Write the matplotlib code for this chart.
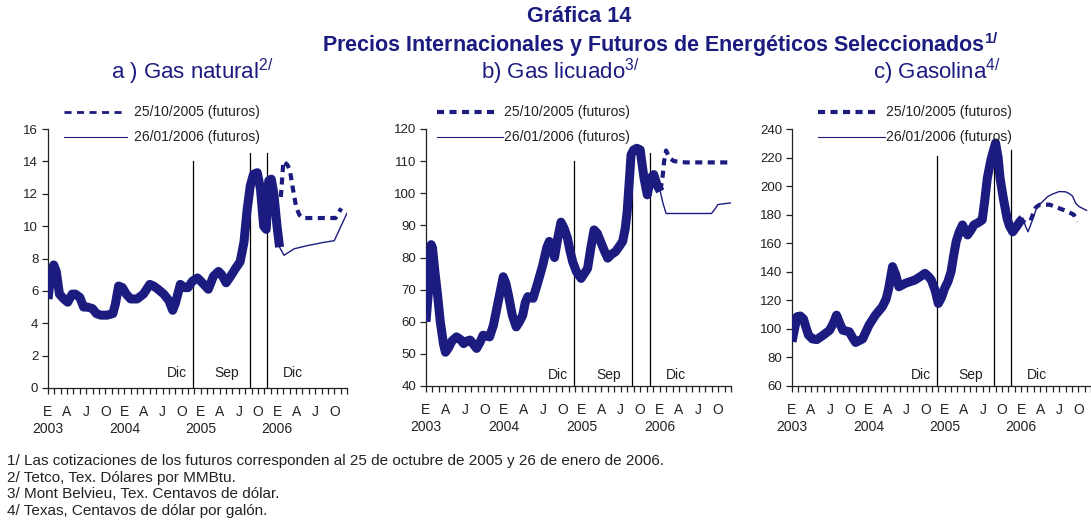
import matplotlib
matplotlib.use("Agg")
import matplotlib.pyplot as plt
from matplotlib.lines import Line2D

plt.rcParams['font.family'] = ['Liberation Sans', 'DejaVu Sans']

# ---------------- data (months since Jan 2003) ----------------
gn_m = [0, 0.4, 0.9, 1.3, 1.8, 2.5, 3.1, 3.8, 4.3, 5.0, 5.6, 6.2, 7.0, 7.6, 8.3, 9.3, 10.2, 10.6, 11.1, 11.7,
        12.3, 13.0, 14.0, 15.0, 16.0, 16.6, 17.3, 18.2, 19.0, 19.6, 20.0, 20.8, 21.5, 22.0, 22.7, 23.5, 24.5,
        25.2, 26.0, 26.8, 27.3, 28.0, 28.7, 29.5, 30.2, 30.8, 31.3, 31.8, 32.3, 32.9, 33.4, 33.9, 34.3, 34.7,
        35.1, 35.5, 36.0, 36.4]
gn_v = [5.5, 6.8, 7.6, 7.2, 5.8, 5.5, 5.3, 5.8, 5.8, 5.6, 5.0, 5.0, 4.9, 4.6, 4.5, 4.5, 4.6, 5.2, 6.3, 6.2,
        5.8, 5.5, 5.5, 5.8, 6.4, 6.3, 6.1, 5.8, 5.4, 4.8, 5.2, 6.4, 6.2, 6.2, 6.6, 6.8, 6.4,
        6.1, 6.9, 7.2, 7.0, 6.5, 6.9, 7.4, 7.8, 9.0, 11.0, 12.5, 13.2, 13.3, 12.3, 10.0, 9.8, 12.8,
        12.9, 12.0, 10.0, 8.7]
gn_f1_m = [36.6, 37.0, 37.6, 38.0, 38.5, 39.0, 39.5, 40.0, 42.0, 44.0, 45.2, 45.8, 46.1]
gn_f1_v = [11.8, 14.0, 13.8, 13.5, 12.3, 11.2, 10.7, 10.5, 10.5, 10.5, 10.5, 10.9, 11.1]
gn_f2_m = [36.4, 37.1, 38.7, 40.8, 43.4, 45.0, 47.0]
gn_f2_v = [8.7, 8.2, 8.6, 8.8, 9.0, 9.1, 10.8]

gl_m = [0, 0.4, 0.8, 1.0, 1.4, 1.8, 2.2, 2.7, 3.0, 3.5, 4.0, 4.7, 5.3, 5.8, 6.3, 6.8, 7.3, 7.8, 8.3, 8.8,
        9.8, 10.4, 10.9, 11.5, 11.9, 12.3, 12.7, 13.3, 13.9, 14.4, 14.9, 15.3, 15.7, 16.5, 17.2, 18.0, 18.6,
        19.0, 19.4, 19.8, 20.3, 20.8, 21.3, 21.8, 22.2, 22.6, 23.2, 23.9, 24.4, 24.9, 25.4, 25.9, 26.4, 26.9,
        27.5, 28.0, 28.6, 29.2, 29.8, 30.3, 30.7, 31.0, 31.3, 31.6, 32.0, 32.5, 33.0, 33.3, 33.6, 34.1, 34.6,
        35.1, 35.6, 36.1]
gl_v = [60, 70, 84, 83, 75, 68, 60, 53, 50.5, 52, 54, 55.3, 54.5, 53.2, 54, 54.3, 53, 51.7, 53.5, 55.8,
        55.3, 59, 64, 70, 74, 72, 68.3, 62, 58.4, 60, 62, 66, 67.8, 67.3, 72, 77.7, 83,
        85, 83, 80, 86, 91, 89, 86, 82, 78.7, 75.5, 73.5, 75, 76.6, 83, 88.6, 87.5, 85,
        82, 79.8, 81, 81.8, 83.5, 85, 89, 94.3, 103, 112, 113.5, 114, 113.5, 109, 104.7, 99.5, 104.7,
        105.8, 102.6, 100.6]
gl_f1_m = [36.1, 36.4, 36.7, 37.0, 37.5, 38.2, 40.0, 43.0, 47.0]
gl_f1_v = [101, 104, 110, 113.3, 111, 110, 109.6, 109.6, 109.6]
gl_f2_m = [36.1, 36.5, 37.0, 40.0, 44.0, 44.5, 45.0, 47.0]
gl_f2_v = [100.6, 97, 93.7, 93.7, 93.7, 95, 96.5, 97]

gs_m = [0, 0.4, 0.8, 1.3, 1.8, 2.2, 2.6, 3.2, 3.9, 4.9, 5.9, 6.5, 7.0, 7.5, 8.0, 9.0, 9.5, 10.0, 11.1, 12.1,
        13.1, 14.2, 14.8, 15.2, 15.8, 16.3, 16.8, 17.8, 19.3, 20.3, 20.9, 21.5, 21.9, 22.5, 23.0, 23.5, 24.0,
        24.5, 25.0, 25.4, 25.8, 26.3, 26.8, 27.2, 27.6, 28.1, 28.6, 29.3, 29.9, 30.3, 30.7, 31.3, 32.0, 32.4,
        32.7, 33.2, 33.8, 34.2, 34.7, 35.3, 35.8, 36.3]
gs_v = [91, 100, 108.5, 109, 107, 101, 95.6, 93, 92.5, 95.6, 99, 104, 109.6, 104, 99, 98, 94, 90.5, 93, 102.6,
        109.6, 115.5, 121, 128.3, 143.6, 138, 129.5, 131.9, 134.2, 137, 138.9, 136.5, 134.2, 127, 117.8, 122, 128.4,
        133, 140, 151, 161.1, 168, 172.8, 169, 165.8, 169, 172.8, 174.5, 176.3, 190, 205.6, 219, 230.2, 220,
        205.6, 192, 177.5, 172, 168, 171.7, 175, 177.5]
gs_f1_m = [37.5, 38.3, 38.9, 40.5, 42.0, 43.3, 44.3, 44.8]
gs_f1_v = [176, 185, 186.9, 187, 184.5, 182.2, 180, 175]
gs_f2_m = [36.3, 36.7, 37.1, 37.7, 38.4, 38.9, 40.2, 41.0, 42.0, 43.0, 43.5, 44.1, 44.6, 45.1, 46.3]
gs_f2_v = [177.5, 172, 168, 175, 184, 187, 192.7, 194.5, 196.2, 196, 195, 193, 188, 185.7, 183]

month_letters = ['E', 'A', 'J', 'O']
years = ['2003', '2004', '2005', '2006']
vline_m = [22.8, 31.7, 34.5]
vline_labels = ['Dic', 'Sep', 'Dic']
vline_label_m = [20.3, 28.1, 38.5]

panels = [
    dict(title='a ) Gas natural', sup='2/', m=gn_m, v=gn_v, f1m=gn_f1_m, f1v=gn_f1_v, f2m=gn_f2_m, f2v=gn_f2_v,
         ylim=(0, 16), yticks=list(range(0, 17, 2)), vtops=[14, 14.5, 14.5], lblv=0.9),
    dict(title='b) Gas licuado', sup='3/', m=gl_m, v=gl_v, f1m=gl_f1_m, f1v=gl_f1_v, f2m=gl_f2_m, f2v=gl_f2_v,
         ylim=(40, 120), yticks=list(range(40, 121, 10)), vtops=[110, 114, 112.5], lblv=43.3),
    dict(title='c) Gasolina', sup='4/', m=gs_m, v=gs_v, f1m=gs_f1_m, f1v=gs_f1_v, f2m=gs_f2_m, f2v=gs_f2_v,
         ylim=(60, 240), yticks=list(range(60, 241, 20)), vtops=[221, 233, 225], lblv=67.5),
]

# ---------------- layout (pixels) ----------------
W, H = 1091, 527
NAVY = '#1c1c80'
TXT = '#222222'
fig = plt.figure(figsize=(W / 100, H / 100), dpi=100)

boxes = [(48, 129, 347, 388, 47.0), (426, 129, 731, 386, 47.0), (792, 129, 1091, 386, 46.2)]
leg = [(64, 127, 134), (437, 503, 504), (818, 885, 886)]
leg_lw = [2.0, 3.0, 3.0]
title_x = [192, 560, 937]

def fx(x):
    return x / W

def fy(y):
    return 1 - y / H

for p, (l, t, r, b, xmax), (lx0, lx1, tx), llw, ttx in zip(panels, boxes, leg, leg_lw, title_x):
    ax = fig.add_axes([fx(l), fy(b), (r - l) / W, (b - t) / H])
    ax.plot(p['m'], p['v'], color=NAVY, lw=6.5, solid_capstyle='butt', solid_joinstyle='round', zorder=3)
    ax.plot(p['f1m'], p['f1v'], color=NAVY, lw=3.0, dashes=(1.7, 1.3), zorder=3)
    ax.plot(p['f2m'], p['f2v'], color=NAVY, lw=1.0, zorder=3)
    for vm, vt in zip(vline_m, p['vtops']):
        ax.plot([vm, vm], [p['ylim'][0], vt], color='black', lw=0.9, zorder=2)
    for lm, lt in zip(vline_label_m, vline_labels):
        ax.text(lm, p['lblv'], lt, ha='center', va='center', fontsize=10, color=TXT)
    ax.set_xlim(0, xmax)
    ax.set_ylim(*p['ylim'])
    ax.set_yticks(p['yticks'])
    ticks = list(range(0, 48))
    labels = []
    for k in ticks:
        if k % 3 == 0:
            s = month_letters[(k // 3) % 4]
            if k % 12 == 0:
                s = s + '\n' + years[k // 12]
            labels.append(s)
        else:
            labels.append('')
    ax.set_xticks(ticks)
    ax.set_xticklabels(labels, linespacing=1.3)
    ax.tick_params(axis='x', length=4, width=0.9, pad=8, labelsize=10, colors=TXT)
    ax.tick_params(axis='y', length=4, width=0.9, pad=3, labelsize=9.5, colors=TXT)
    for s in ['top', 'right']:
        ax.spines[s].set_visible(False)
    for s in ['left', 'bottom']:
        ax.spines[s].set_linewidth(0.9)
        ax.spines[s].set_color(TXT)
    # legend-like annotations
    fig.add_artist(Line2D([fx(lx0), fx(lx0 + 58)], [fy(112), fy(112)], color=NAVY, lw=llw,
                          dashes=(1.7 * 3 / llw, 1.3 * 3 / llw), transform=fig.transFigure))
    fig.text(fx(tx), fy(112), '25/10/2005 (futuros)', fontsize=10, va='center', ha='left', color=TXT)
    fig.text(fx(tx), fy(137), '26/01/2006 (futuros)', fontsize=10, va='center', ha='left', color=TXT)
    fig.add_artist(Line2D([fx(lx0), fx(lx1)], [fy(137), fy(137)], color=NAVY, lw=0.8,
                          transform=fig.transFigure))
    # panel title
    fig.text(fx(ttx), fy(72), p['title'] + r'$^{\mathregular{' + p['sup'] + '}}$',
             fontsize=16, ha='center', va='center', color=NAVY)

fig.text(fx(579), fy(17), 'Gráfica 14', fontsize=15.5, fontweight='bold', ha='center', va='center', color=NAVY)
fig.text(fx(660), fy(45), 'Precios Internacionales y Futuros de Energéticos Seleccionados$^{\\mathregular{1/}}$',
         fontsize=15.5, fontweight='bold', ha='center', va='center', color=NAVY)

notes = ['1/ Las cotizaciones de los futuros corresponden al 25 de octubre de 2005 y 26 de enero de 2006.',
         '2/ Tetco, Tex. Dólares por MMBtu.',
         '3/ Mont Belvieu, Tex. Centavos de dólar.',
         '4/ Texas, Centavos de dólar por galón.']
for i, n in enumerate(notes):
    fig.text(fx(7), fy(461 + 16.7 * i), n, fontsize=11, ha='left', va='center', color=TXT)

fig.savefig('out.png', dpi=100)
